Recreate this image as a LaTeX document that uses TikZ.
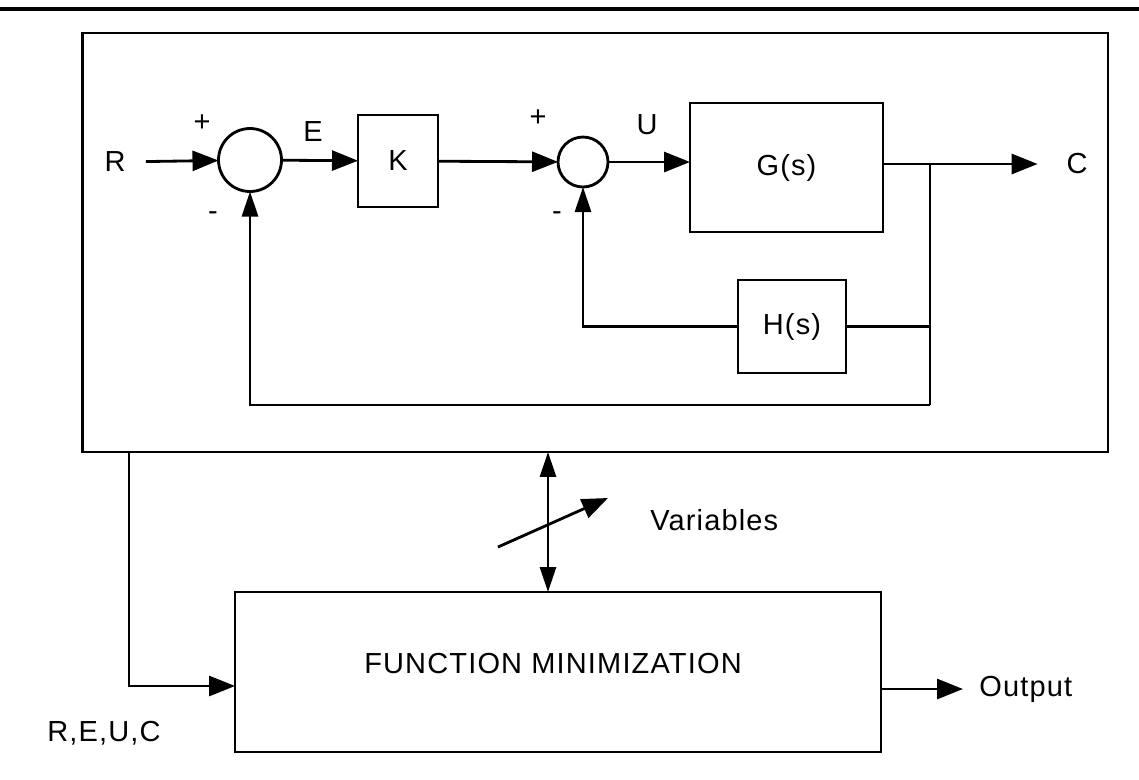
\documentclass[tikz,border=0pt]{standalone}
\usepackage{fontspec}
\setmainfont{Liberation Sans}[LetterSpace=4.0]
\usetikzlibrary{arrows.meta}

\begin{document}
\begin{tikzpicture}[x=0.02cm, y=-0.02cm, line width=1.6pt,
    every node/.style = {font=\fontsize{16.5pt}{19pt}\selectfont},
    block/.style = {draw, inner sep=0pt, outer sep=0pt},
    sumnode/.style = {draw, circle, inner sep=0pt, outer sep=0pt},
    >={Triangle[length=0.52cm, width=0.4cm]},
    fbtip/.style = {-{Triangle[length=0.5cm, width=0.32cm]}},
    bothtip/.style = {{Triangle[length=0.5cm, width=0.32cm]}-{Triangle[length=0.5cm, width=0.32cm]}}]
\useasboundingbox (0,0) rectangle (1139,779);
\draw[line width=2pt] (0,9) -- (1139,9);

% loop
\node[block, minimum width=20.52cm, minimum height=8.38cm] (sys) at (595,242.5) {};
\node[inner xsep=0.38cm] (R) at (115,162) {R};
\node[sumnode, minimum size=1.26cm] (s1) at (250,160) {};
\node at (202,123) {+};
\node at (213,216) {-};
\node at (313,132) {E};
\node[block, minimum width=1.6cm, minimum height=1.84cm] (K) at (398,161) {K};
\node[sumnode, minimum size=1cm] (s2) at (583,162) {};
\node at (538,118) {+};
\node at (557,216) {-};
\node at (647,125) {U};
\node[block, minimum width=3.86cm, minimum height=2.58cm] (G) at (786.5,167.5) {G(s)};
\node[block, minimum width=2.16cm, minimum height=1.86cm] (H) at (792,326.5) {H(s)};
\node[inner xsep=0.55cm] (C) at (1077,164) {C};
\coordinate (br) at (930,164);
\coordinate (fb) at (930,405);

\draw[->] (R) -- (s1);
\draw[->] (s1) -- (K);
\draw[->] (K) -- (s2);
\draw[->] (s2) -- (s2 -| G.west);
\draw[->] (G.east |- br) -- (C);
\draw (br) -- (fb);
\draw (H.east) -- (H.east -| br);
\draw[fbtip] (H.west) -| (s2.south);
\draw[fbtip] (fb) -| (s1.south);

% optimizer
\node[block, minimum width=12.92cm, minimum height=3.2cm] (fm) at (558,672) {};
\node at (553,664) {FUNCTION MINIMIZATION};
\node[anchor=west, inner xsep=0.3cm] (out) at (963,689) {Output};
\node (sig) at (104,733) {R,E,U,C};
\node[anchor=west] (var) at (643,520) {Variables};
\coordinate (in) at (129,686);
\coordinate (va) at (548,520);
\coordinate (v1) at (498,547);
\coordinate (v2) at (608,498);

\draw[->] (in |- sys.south) -- (in) -- (in -| fm.west);
\draw[->] (fm.east |- out.west) -- (out.west);
\draw[bothtip] (va |- sys.south) -- (va |- fm.north);
\draw[->] (v1) -- (v2);
\end{tikzpicture}
\end{document}
